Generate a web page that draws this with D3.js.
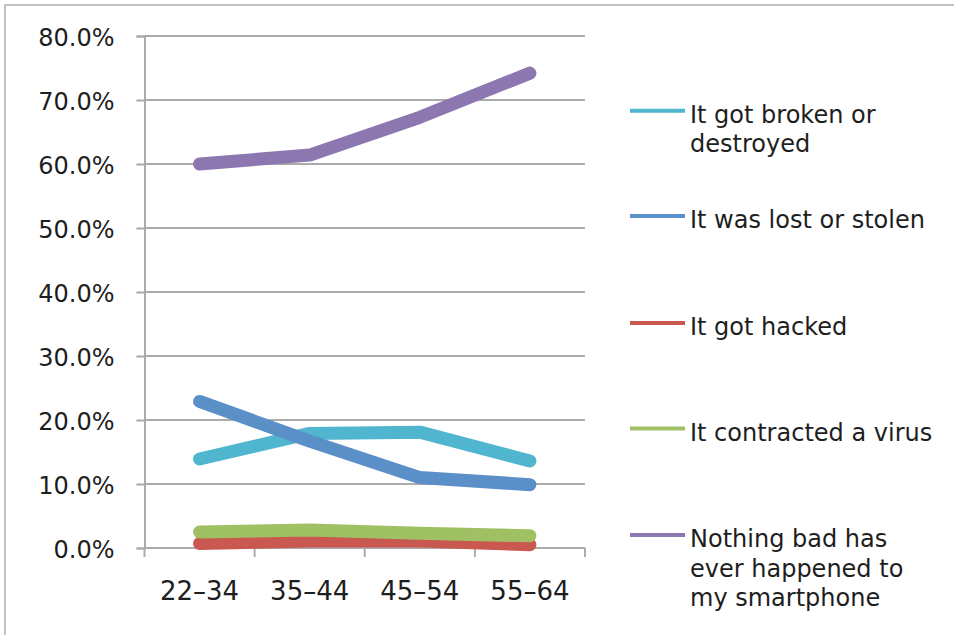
<!DOCTYPE html>
<html>
<head>
<meta charset="utf-8">
<script src="https://cdn.jsdelivr.net/npm/d3@7"></script>
<style>
  html, body { margin: 0; padding: 0; background: #fff; }
  svg { display: block; }
  text { font-family: "DejaVu Sans", sans-serif; fill: #1e1e1e; }
</style>
</head>
<body>
<svg id="chart" width="954" height="635"></svg>
<script>
// Age groups on the x axis
const ageGroups = ["22–34", "35–44", "45–54", "55–64"];

// Share of respondents per age group (fractions)
const brokenOrDestroyed = [0.139, 0.179, 0.181, 0.136];
const lostOrStolen      = [0.229, 0.167, 0.110, 0.099];
const gotHacked         = [0.007, 0.011, 0.011, 0.005];
const contractedVirus   = [0.025, 0.028, 0.023, 0.019];
const nothingBad        = [0.600, 0.614, 0.673, 0.742];

const seriesNames = [
  ["It got broken or", "destroyed"],
  ["It was lost or stolen"],
  ["It got hacked"],
  ["It contracted a virus"],
  ["Nothing bad has", "ever happened to", "my smartphone"]
];
const seriesColors = ["#50b6cf", "#5b8fc8", "#c95850", "#a0c163", "#8d77b0"];
const yTickValues = [0, 0.1, 0.2, 0.3, 0.4, 0.5, 0.6, 0.7, 0.8];

const series = [brokenOrDestroyed, lostOrStolen, gotHacked, contractedVirus, nothingBad]
  .map((values, i) => ({ name: seriesNames[i], color: seriesColors[i], values }));

const svg = d3.select("#chart");

// chart frame
svg.append("rect")
  .attr("x", 5).attr("y", 5)
  .attr("width", 960).attr("height", 640)
  .attr("fill", "#fff")
  .attr("stroke", "#c2c2c2")
  .attr("stroke-width", 2);

const plot = { left: 144.5, right: 585, top: 36, bottom: 548 };

const x = d3.scaleBand().domain(ageGroups).range([plot.left, plot.right]);
const y = d3.scaleLinear().domain([0, 0.8]).range([plot.bottom, plot.top]);

// horizontal gridlines
svg.append("g")
  .selectAll("line")
  .data(yTickValues)
  .join("line")
  .attr("x1", plot.left).attr("x2", plot.right)
  .attr("y1", d => y(d)).attr("y2", d => y(d))
  .attr("stroke", "#ababab")
  .attr("stroke-width", 2);

// y axis
const yAxis = svg.append("g")
  .attr("transform", `translate(${plot.left},0)`)
  .call(d3.axisLeft(y).tickValues(yTickValues).tickFormat(d3.format(".1%")).tickSize(8).tickPadding(22));
yAxis.select(".domain").attr("stroke", "#ababab").attr("stroke-width", 2);
yAxis.selectAll(".tick line").attr("stroke", "#ababab").attr("stroke-width", 2);
yAxis.selectAll(".tick text")
  .attr("font-size", 24)
  .attr("font-family", "DejaVu Sans, sans-serif")
  .attr("fill", "#1e1e1e")
  .attr("dy", "0.4em");

// x axis: tick marks at band boundaries, labels centred in the bands
const boundaries = ageGroups.map(g => x(g)).concat([x.range()[1]]);
svg.append("g")
  .selectAll("line")
  .data(boundaries)
  .join("line")
  .attr("x1", d => d).attr("x2", d => d)
  .attr("y1", plot.bottom).attr("y2", plot.bottom + 9)
  .attr("stroke", "#ababab")
  .attr("stroke-width", 2);

const xAxis = svg.append("g")
  .attr("transform", `translate(0,${plot.bottom})`)
  .call(d3.axisBottom(x).tickSize(0).tickPadding(34));
xAxis.select(".domain").remove();
xAxis.selectAll(".tick text")
  .attr("font-size", 26)
  .attr("font-family", "DejaVu Sans, sans-serif")
  .attr("fill", "#1e1e1e")
  .attr("dy", "0.71em");

// series lines
const line = d3.line()
  .x((d, i) => x(ageGroups[i]) + x.bandwidth() / 2)
  .y(d => y(d));

svg.append("g")
  .selectAll("path")
  .data(series)
  .join("path")
  .attr("d", d => line(d.values))
  .attr("fill", "none")
  .attr("stroke", d => d.color)
  .attr("stroke-width", 13)
  .attr("stroke-linecap", "round")
  .attr("stroke-linejoin", "round");

// legend
const legendY = [110.7, 216, 323, 428.5, 535];
const legend = svg.append("g")
  .selectAll("g")
  .data(series)
  .join("g")
  .attr("transform", (d, i) => `translate(630,${legendY[i]})`);

legend.append("line")
  .attr("x1", 0).attr("x2", 55)
  .attr("y1", 0).attr("y2", 0)
  .attr("stroke", d => d.color)
  .attr("stroke-width", 4);

legend.append("text")
  .attr("x", 60)
  .attr("y", 12)
  .attr("font-size", 24)
  .selectAll("tspan")
  .data(d => d.name)
  .join("tspan")
  .attr("x", 60)
  .attr("dy", (d, i) => i === 0 ? 0 : 29.5)
  .text(d => d);
</script>
</body>
</html>
